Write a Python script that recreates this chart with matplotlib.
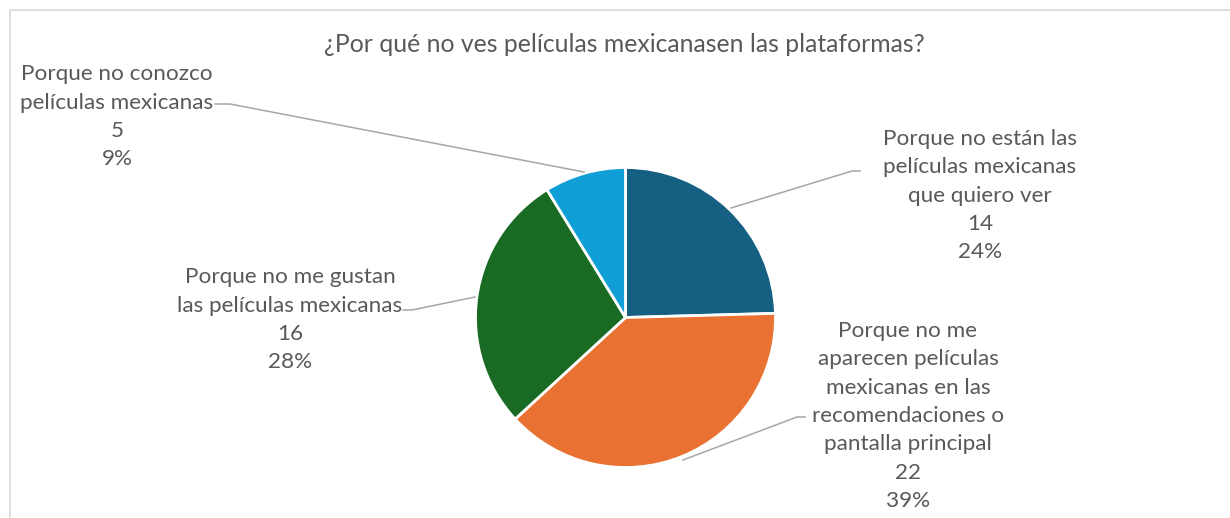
import matplotlib
matplotlib.use("Agg")
import matplotlib.pyplot as plt

plt.rcParams['font.family'] = ['Lato', 'DejaVu Sans']

title = "¿Por qué no ves películas mexicanasen las plataformas?"
categories = [
    "Porque no están las\npelículas mexicanas\nque quiero ver",
    "Porque no me\naparecen películas\nmexicanas en las\nrecomendaciones o\npantalla principal",
    "Porque no me gustan\nlas películas mexicanas",
    "Porque no conozco\npelículas mexicanas",
]
values = [14, 22, 16, 5]
percent_labels = ["24%", "39%", "28%", "9%"]
colors = ["#156082", "#E97132", "#196B24", "#0F9ED5"]

W, H = 1230, 518
fig = plt.figure(figsize=(W / 100, H / 100), dpi=100)
ax = fig.add_axes([0, 0, 1, 1])
ax.set_xlim(0, W)
ax.set_ylim(0, H)
ax.set_aspect('equal')
ax.axis('off')

def Y(y):
    return H - y

# frame (cropped chart area)
ax.plot([9.5, 9.5, W + 5], [-5, Y(9.5), Y(9.5)], color="#D9D9D9", lw=1.2, solid_capstyle='butt')

cx, cy, r = 625.5, Y(317.5), 150
ax.pie(values, colors=colors, startangle=90, counterclock=False,
       center=(cx, cy), radius=r,
       wedgeprops=dict(edgecolor="white", linewidth=2))
ax.set_xlim(0, W)
ax.set_ylim(0, H)

ax.text(624, Y(45), title, ha='center', va='center', fontsize=17.8, color="#595959")

# label positions (center x, first-line y), leader lines
label_pos = [(980, 137), (908, 328), (290, 276), (117, 73)]
leaders = [
    [(860, 171), (852, 171), (731, 208)],
    [(805, 417), (797, 417), (683, 460)],
    [(403, 310), (412, 310), (475, 297)],
    [(215, 104), (230, 104), (584, 172)],
]
line_h = 29.3
for cat, v, p, (x, y), ld in zip(categories, values, percent_labels, label_pos, leaders):
    txt = cat + "\n" + str(v) + "\n" + p
    n = txt.count("\n")
    ax.text(x, Y(y + n * line_h / 2), txt, ha='center', va='center', fontsize=16.2,
            color="#595959", linespacing=1.52)
    xs = [q[0] for q in ld]
    ys = [Y(q[1]) for q in ld]
    ax.plot(xs, ys, color="#A6A6A6", lw=1.1)

fig.savefig("out.png", dpi=100)
